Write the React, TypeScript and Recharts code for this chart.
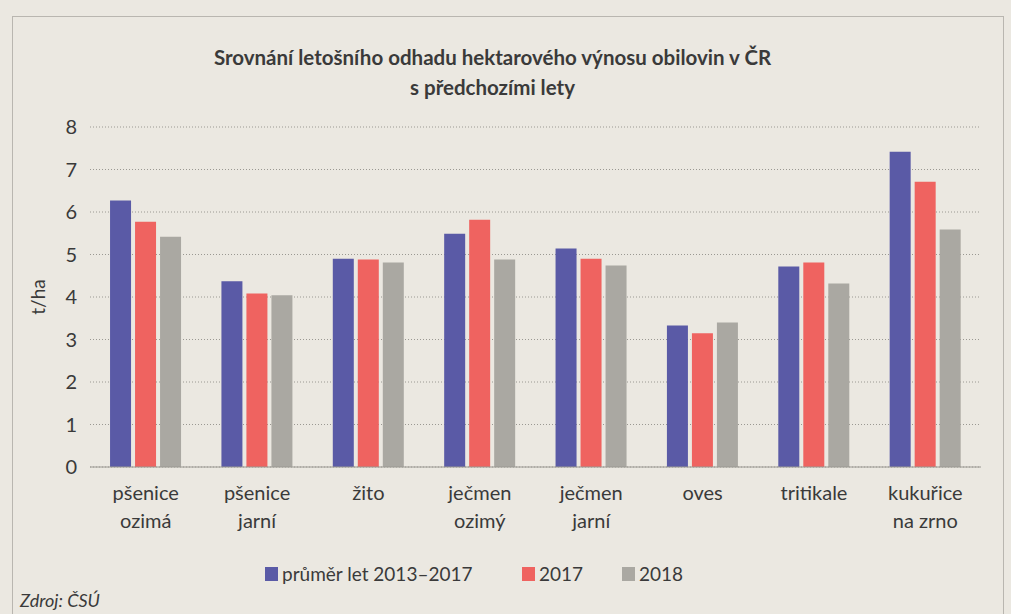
import React from "react";
import { Bar, BarChart, CartesianGrid, XAxis, YAxis, Label } from "recharts";

// crops, each tick label split into lines
const crops: string[][] = [
  ["pšenice", "ozimá"],
  ["pšenice", "jarní"],
  ["žito"],
  ["ječmen", "ozimý"],
  ["ječmen", "jarní"],
  ["oves"],
  ["tritikale"],
  ["kukuřice", "na zrno"],
];

const avg2013to2017 = [6.27, 4.37, 4.9, 5.49, 5.14, 3.33, 4.72, 7.42];
const y2017 = [5.77, 4.08, 4.88, 5.82, 4.9, 3.15, 4.81, 6.71];
const y2018 = [5.42, 4.04, 4.81, 4.88, 4.74, 3.4, 4.32, 5.59];

const yTicks = [0, 1, 2, 3, 4, 5, 6, 7, 8];

const series = [
  { key: "avg", name: "průměr let 2013–2017", color: "#5a5aa6" },
  { key: "y2017", name: "2017", color: "#ef6360" },
  { key: "y2018", name: "2018", color: "#aaa8a2" },
];

const data = crops.map((c, i) => ({
  crop: c.join("|"),
  avg: avg2013to2017[i],
  y2017: y2017[i],
  y2018: y2018[i],
}));

const FONT = "Lato, 'Open Sans', sans-serif";
const TEXT = "#3a3a3a";

const CropTick = (props: any) => {
  const { x, y, payload } = props;
  const parts: string[] = payload.value.split("|");
  return (
    <g transform={`translate(${x},${y})`}>
      <text textAnchor="middle" fill={TEXT} fontSize={20} fontFamily={FONT}>
        {parts.map((p, i) => (
          <tspan key={i} x={0} dy={i === 0 ? 25 : 28}>
            {p}
          </tspan>
        ))}
      </text>
    </g>
  );
};

export default function App() {
  return (
    <div
      style={{
        position: "absolute",
        left: 0,
        top: 0,
        width: 1011,
        height: 614,
        background: "#ebe8e1",
        fontFamily: FONT,
        overflow: "hidden",
      }}
    >
      <div
        style={{
          position: "absolute",
          left: 12,
          top: 16,
          width: 990,
          height: 620,
          border: "1px solid #b9b6b0",
        }}
      />
      <div
        style={{
          position: "absolute",
          left: 0,
          top: 42,
          width: 985,
          textAlign: "center",
          fontWeight: 700,
          fontSize: 20.5,
          lineHeight: "30px",
          color: TEXT,
        }}
      >
        Srovnání letošního odhadu hektarového výnosu obilovin v ČR
        <br />s předchozími lety
      </div>
      <div style={{ position: "absolute", left: 0, top: 0 }}>
        <BarChart
          width={1011}
          height={614}
          data={data}
          margin={{ top: 127, right: 30, bottom: 77, left: 36 }}
          barCategoryGap="18%"
          barGap={4}
        >
          <CartesianGrid
            vertical={false}
            stroke="#9a9892"
            strokeDasharray="1 2"
          />
          <XAxis
            dataKey="crop"
            height={70}
            tick={<CropTick />}
            tickLine={false}
            axisLine={{ stroke: "#9a9892", strokeWidth: 1 }}
            interval={0}
          />
          <YAxis
            width={54}
            domain={[0, 8]}
            ticks={yTicks}
            axisLine={false}
            tickLine={false}
            tickSize={0}
            tickMargin={13}
            tick={{ fill: TEXT, fontSize: 20, fontFamily: FONT }}
          >
            <Label
              value="t/ha"
              angle={-90}
              position="insideLeft"
              offset={2}
              style={{ fill: TEXT, fontSize: 19, fontFamily: FONT, textAnchor: "middle" }}
            />
          </YAxis>
          {series.map((s) => (
            <Bar
              key={s.key}
              dataKey={s.key}
              name={s.name}
              fill={s.color}
              isAnimationActive={false}
            />
          ))}
        </BarChart>
      </div>
      <div
        style={{
          position: "absolute",
          top: 562,
          left: 265,
          display: "flex",
          alignItems: "center",
          fontSize: 19,
          color: TEXT,
        }}
      >
        {series.map((s, i) => (
          <div
            key={s.key}
            style={{
              display: "flex",
              alignItems: "center",
              width: i === 0 ? 257 : 100,
            }}
          >
            <span
              style={{
                display: "inline-block",
                width: 13,
                height: 14,
                background: s.color,
                marginRight: 4,
              }}
            />
            <span>{s.name}</span>
          </div>
        ))}
      </div>
      <div
        style={{
          position: "absolute",
          left: 20,
          top: 589,
          fontStyle: "italic",
          fontSize: 18,
          color: TEXT,
        }}
      >
        Zdroj: ČSÚ
      </div>
    </div>
  );
}
